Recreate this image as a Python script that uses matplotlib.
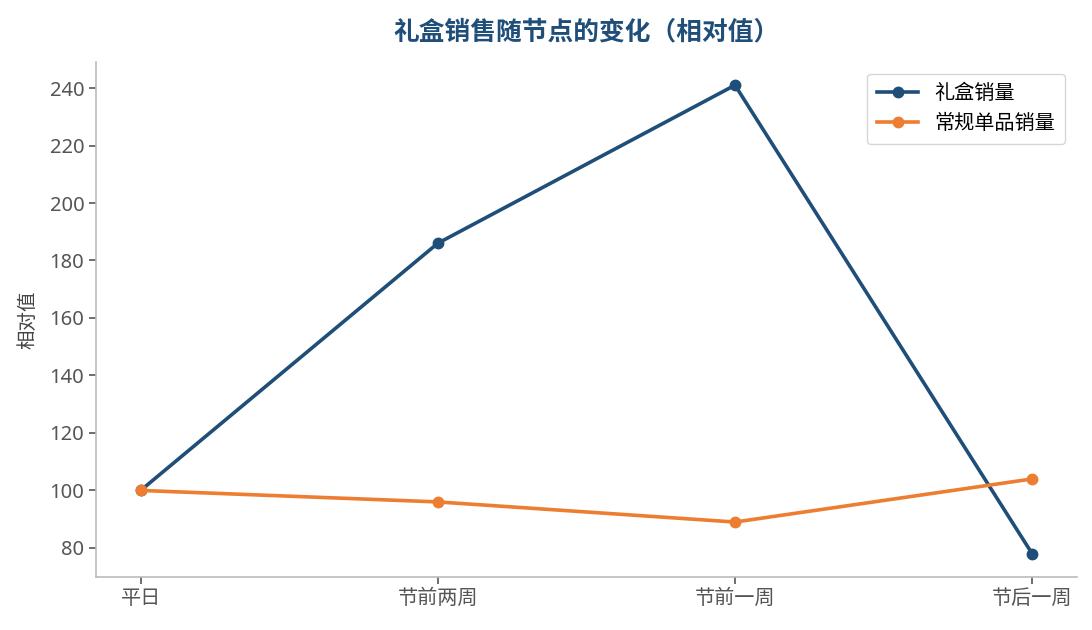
import matplotlib
matplotlib.use("Agg")
import matplotlib.pyplot as plt

plt.rcParams['font.family'] = ['Noto Sans', 'Noto Sans CJK SC', 'DejaVu Sans']

stages = ["平日", "节前两周", "节前一周", "节后一周"]
gift_box = [100, 186, 241, 78]
regular_items = [100, 96, 89, 104]

blue = "#1f4e79"
orange = "#ed7d31"

fig, ax = plt.subplots(figsize=(10.92, 6.3), dpi=100)
fig.subplots_adjust(left=0.088, right=0.986, top=0.902, bottom=0.084)

x = range(len(stages))
ax.plot(x, gift_box, color=blue, lw=2.6, marker="o", ms=7.5, label="礼盒销量")
ax.plot(x, regular_items, color=orange, lw=2.6, marker="o", ms=7.5, label="常规单品销量")

ax.set_xticks(list(x))
ax.set_xticklabels(stages)
ax.set_ylabel("相对值", fontsize=14, color="#444444", labelpad=8)
ax.set_title("礼盒销售随节点的变化（相对值）", fontsize=18.5, fontweight="bold",
             color=blue, pad=16)

for side in ["top", "right"]:
    ax.spines[side].set_visible(False)
for side in ["left", "bottom"]:
    ax.spines[side].set_color("#bbbbbb")
    ax.spines[side].set_linewidth(1.2)
ax.tick_params(colors="#555555", labelsize=14.5, length=5, width=1.2)
for lbl in ax.get_xticklabels() + ax.get_yticklabels():
    lbl.set_color("#555555")

leg = ax.legend(loc="upper right", fontsize=14.5, frameon=True, borderpad=0.5,
                handlelength=2.0, labelspacing=0.5, borderaxespad=0.6)
leg.get_frame().set_edgecolor("#cccccc")

fig.savefig("out.png", dpi=100)
